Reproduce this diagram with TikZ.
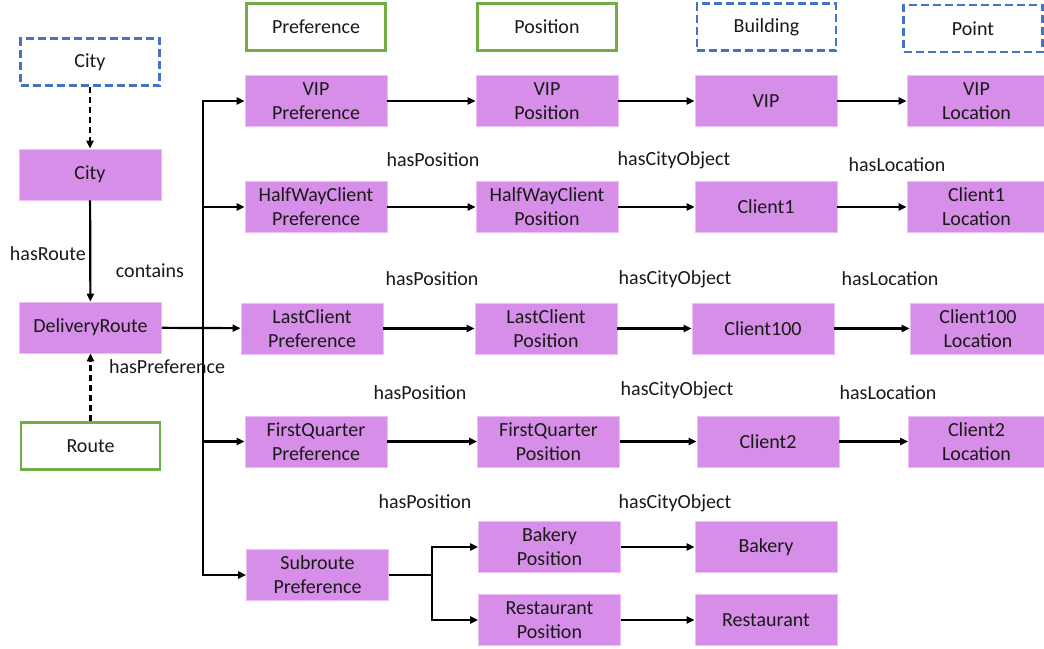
\documentclass[tikz,border=0pt]{standalone}
\usepackage{fontspec}
\setmainfont{Carlito}
\usetikzlibrary{arrows.meta}

\definecolor{classpurple}{RGB}{214,142,232}
\definecolor{edgepurple}{RGB}{236,192,245}
\definecolor{classgreen}{RGB}{112,173,71}
\definecolor{classblue}{RGB}{68,114,196}

\begin{document}
\begin{tikzpicture}[> = {Triangle[length = 8pt, width = 7pt]}, x = 1pt, y = -1pt,
	every node/.style = {font = \fontsize{20}{24}\selectfont, text = black!90},
	instance/.style = {fill = classpurple, draw = edgepurple, line width = 0.8pt, minimum width = 142pt, minimum height = 51pt, inner sep = 0pt, align = center},
	local/.style = {draw = classgreen, line width = 2.5pt, minimum width = 139pt, minimum height = 47pt, inner sep = 0pt},
	external/.style = {draw = classblue, line width = 2.5pt, dash pattern = on 8pt off 4pt, minimum width = 139pt, minimum height = 47pt, inner sep = 0pt},
	link/.style = {->, line width = 2.2pt},
	hint/.style = {->, line width = 2.2pt, dash pattern = on 6pt off 4pt}]

% Keep the page as large as the picture

\useasboundingbox (0, 0) rectangle (1044, 648);

% The route and its city

\node [external] (cityClass) at (90, 62) {City};
\node [instance] (city) at (90, 174.5) {City};
\node [instance] (delivery) at (90.5, 327.5) {DeliveryRoute};
\node [local] (routeClass) at (90.5, 446) {Route};

% Class headers

\node [local] (prefClass) at (316, 27) {Preference};
\node [local] (posClass) at (547, 27) {Position};
\node [external] (bldClass) at (766.5, 27) {Building};
\node [external] (ptClass) at (973, 28.5) {Point};

% Preferences

\node [instance] (vipPref) at (316, 101) {VIP\\Preference};
\node [instance] (halfPref) at (316, 207) {HalfWayClient\\Preference};
\node [instance] (lastPref) at (312, 328.5) {LastClient\\Preference};
\node [instance] (firstPref) at (316, 441.5) {FirstQuarter\\Preference};
\node [instance] (subPref) at (317.5, 575) {Subroute\\Preference};

% Positions

\node [instance] (vipPos) at (547, 101) {VIP\\Position};
\node [instance] (halfPos) at (547, 207) {HalfWayClient\\Position};
\node [instance] (lastPos) at (546, 328.5) {LastClient\\Position};
\node [instance] (firstPos) at (548.5, 441.5) {FirstQuarter\\Position};
\node [instance] (bakeryPos) at (549.5, 547) {Bakery\\Position};
\node [instance] (restPos) at (549.5, 620) {Restaurant\\Position};

% Buildings

\node [instance] (vip) at (766, 101) {VIP};
\node [instance] (client1) at (766, 207) {Client1};
\node [instance] (client100) at (763, 328.5) {Client100};
\node [instance] (client2) at (768, 441.5) {Client2};
\node [instance] (bakery) at (766, 547) {Bakery};
\node [instance] (restaurant) at (766, 620) {Restaurant};

% Locations

\node [instance, minimum width = 139pt] (vipLoc) at (976.5, 101) {VIP\\Location};
\node [instance, minimum width = 139pt] (client1Loc) at (976.5, 207) {Client1\\Location};
\node [instance, minimum width = 136pt] (client100Loc) at (978, 328.5) {Client100\\Location};
\node [instance, minimum width = 136pt] (client2Loc) at (976.5, 441.5) {Client2\\Location};

% City and route links

\draw [hint] (cityClass) -- (city);
\draw [link] (city) -- node [left, pos = 0.53] {hasRoute} (delivery);
\draw [hint] (routeClass) -- (delivery);

% The trunk to the preferences

\coordinate (trunk) at (203, 0);
\draw [link] (delivery) -- (lastPref);
\draw [link] (trunk |- vipPref) |- (subPref.west);
\draw [link] (trunk |- subPref) |- (vipPref.west);
\foreach \n in {halfPref, firstPref}
	\draw [link] (trunk |- \n) -- (\n);

\node (containsLabel) at (150, 271) {contains};
\node (prefLabel) at (167, 367) {hasPreference};

% Rows of links

\foreach \a/\b in {vipPref/vipPos, vipPos/vip, vip/vipLoc,
		halfPref/halfPos, halfPos/client1, client1/client1Loc,
		lastPref/lastPos, lastPos/client100, client100/client100Loc,
		firstPref/firstPos, firstPos/client2, client2/client2Loc,
		bakeryPos/bakery, restPos/restaurant}
	\draw [link] (\a) -- (\b);

% The subroute fork

\coordinate (fork) at (432, 0);
\draw [link] (subPref.east) -- (fork |- subPref) |- (bakeryPos.west);
\draw [link] (fork |- subPref) |- (restPos.west);

% Link labels

\foreach \x/\y/\t [count = \i] in {433/160/hasPosition, 432/279/hasPosition, 420/393/hasPosition, 425/502/hasPosition,
		674/160/hasCityObject, 675/279/hasCityObject, 677/390/hasCityObject, 675/503/hasCityObject,
		897/165/hasLocation, 890/279/hasLocation, 888/393/hasLocation}
	\node (rowLabel\i) at (\x, \y) {\t};

\end{tikzpicture}
\end{document}
